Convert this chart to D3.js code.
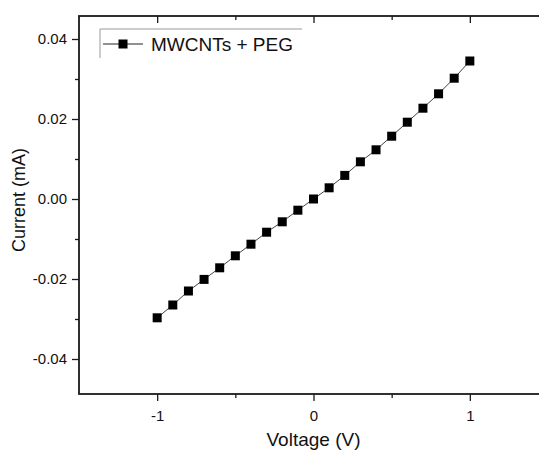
<!DOCTYPE html>
<html>

<head>
    <meta charset="utf-8" />
    <title>I-V curve</title>
    <script type="text/javascript" src="https://cdn.jsdelivr.net/npm/d3@7"></script>
    <style>
        body { margin: 0; background: #fff; overflow: hidden; }
        svg { display: block; }
        text { font-family: Arial, "Liberation Sans", sans-serif; fill: #111; }
    </style>
</head>

<body>
    <script type="text/javascript">
        const seriesName = "MWCNTs + PEG";
        const voltage = [-1.0, -0.9, -0.8, -0.7, -0.6, -0.5, -0.4, -0.3, -0.2, -0.1, 0.0,
            0.1, 0.2, 0.3, 0.4, 0.5, 0.6, 0.7, 0.8, 0.9, 1.0];
        const current = [-0.0297, -0.0265, -0.0230, -0.0201, -0.0172, -0.0142, -0.0113, -0.0083, -0.0057, -0.0028, 0.0000,
            0.0028, 0.0059, 0.0093, 0.0123, 0.0157, 0.0192, 0.0227, 0.0263, 0.0302, 0.0345];
        const xTicks = [-1, 0, 1];
        const xMinorTicks = [-0.5, 0.5];
        const yTicks = [-0.04, -0.02, 0.00, 0.02, 0.04];
        const yMinorTicks = [-0.03, -0.01, 0.01, 0.03];

        const width = 539,
            height = 451,
            margin = { top: 16, left: 79, bottom: 57, right: -9 };

        const data = voltage.map((v, i) => ({ x: v, y: current[i] }));

        const x = d3.scaleLinear()
            .domain([-1.5, 1.5])
            .range([margin.left, width - margin.right]);

        const y = d3.scaleLinear()
            .domain([-0.04875, 0.04575])
            .range([height - margin.bottom, margin.top]);

        const svg = d3.select("body").append("svg")
            .attr("width", width)
            .attr("height", height);

        const axisColor = "#1a1a1a";
        const hyphen = (f) => (d) => f(d).replace("\u2212", "-");

        // axes: bottom/left ticks out, top ticks in
        const styleAxis = (g) => {
            g.select(".domain").remove();
            g.selectAll(".tick line").attr("stroke", axisColor).attr("stroke-width", 1.3);
            g.selectAll(".tick text").style("font-size", "15px").attr("fill", "#111");
        };

        const bottomY = height - margin.bottom;

        svg.append("g")
            .attr("transform", `translate(0,${bottomY})`)
            .call(d3.axisBottom(x).tickValues(xTicks).tickSize(7).tickPadding(9).tickFormat(hyphen(d3.format("d"))))
            .call(styleAxis);
        svg.append("g")
            .attr("transform", `translate(0,${bottomY})`)
            .call(d3.axisBottom(x).tickValues(xMinorTicks).tickSize(4).tickFormat(""))
            .call(styleAxis);

        svg.append("g")
            .attr("transform", `translate(0,${margin.top})`)
            .call(d3.axisBottom(x).tickValues(xTicks).tickSize(7).tickFormat(""))
            .call(styleAxis);
        svg.append("g")
            .attr("transform", `translate(0,${margin.top})`)
            .call(d3.axisBottom(x).tickValues(xMinorTicks).tickSize(4).tickFormat(""))
            .call(styleAxis);

        svg.append("g")
            .attr("transform", `translate(${margin.left},0)`)
            .call(d3.axisLeft(y).tickValues(yTicks).tickSize(7).tickPadding(5).tickFormat(hyphen(d3.format(".2f"))))
            .call(styleAxis);
        svg.append("g")
            .attr("transform", `translate(${margin.left},0)`)
            .call(d3.axisLeft(y).tickValues(yMinorTicks).tickSize(4).tickFormat(""))
            .call(styleAxis);

        // frame (right edge falls just outside the picture)
        svg.append("rect")
            .attr("x", margin.left)
            .attr("y", margin.top)
            .attr("width", width - margin.right - margin.left)
            .attr("height", bottomY - margin.top)
            .attr("fill", "none")
            .attr("stroke", axisColor)
            .attr("stroke-width", 1.8);

        // series
        const line = d3.line()
            .x(d => x(d.x))
            .y(d => y(d.y));

        svg.append("path")
            .datum(data)
            .attr("d", line)
            .attr("fill", "none")
            .attr("stroke", "#444")
            .attr("stroke-width", 1);

        const size = 9;
        svg.append("g")
            .selectAll("rect")
            .data(data)
            .join("rect")
            .attr("x", d => x(d.x) - size / 2)
            .attr("y", d => y(d.y) - size / 2)
            .attr("width", size)
            .attr("height", size)
            .attr("fill", "#000");

        // legend (only top and left edges of its box show)
        const lg = svg.append("g").attr("transform", "translate(100,29)");
        lg.append("path")
            .attr("d", "M0,29V0H202")
            .attr("fill", "none")
            .attr("stroke", "#999")
            .attr("stroke-width", 1);
        lg.append("line")
            .attr("x1", 3).attr("x2", 43)
            .attr("y1", 15).attr("y2", 15)
            .attr("stroke", "#222")
            .attr("stroke-width", 1);
        lg.append("rect")
            .attr("x", 23 - size / 2).attr("y", 15 - size / 2)
            .attr("width", size).attr("height", size)
            .attr("fill", "#000");
        lg.append("text")
            .attr("x", 51)
            .attr("y", 22)
            .style("font-size", "19px")
            .text(seriesName);

        // axis titles
        svg.append("text")
            .attr("x", x(0))
            .attr("y", 446)
            .attr("text-anchor", "middle")
            .style("font-size", "19px")
            .text("Voltage (V)");

        svg.append("text")
            .attr("transform", `translate(25,${(margin.top + bottomY) / 2 - 5}) rotate(-90)`)
            .attr("text-anchor", "middle")
            .style("font-size", "18px")
            .text("Current (mA)");
    </script>
</body>

</html>
